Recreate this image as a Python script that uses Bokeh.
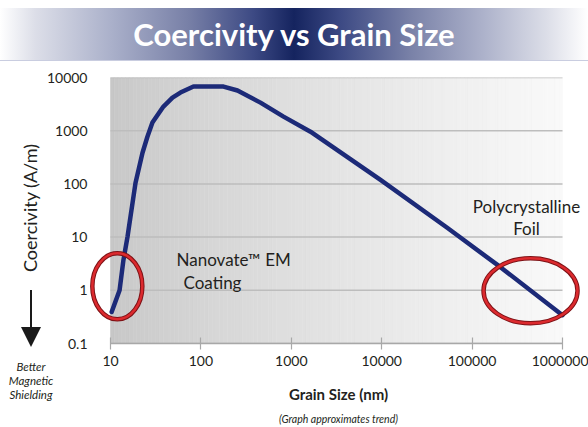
import numpy as np
from bokeh.plotting import figure
from bokeh.layouts import column, row
from bokeh.models import Label, FixedTicker, LogAxis, Div
from bokeh.embed import file_html
from bokeh.resources import INLINE

# ---------------- data ----------------
grain_size_nm = [10.3, 12.6, 13.9, 15.4, 18.9, 22.6, 25.6, 29.1, 38.5, 48.5,
                 59.4, 82.8, 128, 178, 254, 456, 820, 1630, 9700, 53500,
                 206000, 1000000]
coercivity_am = [0.39, 1.0, 3.7, 10, 104, 385, 770, 1420, 2840, 4200,
                 5210, 6760, 6800, 6760, 5690, 3370, 1840, 957, 119, 14.8,
                 2.72, 0.34]

x_ticks = [10, 100, 1000, 10000, 100000, 1000000]
x_tick_labels = ["10", "100", "1000", "10000", "100000", "1000000"]
y_ticks = [0.1, 1, 10, 100, 1000, 10000]
y_tick_labels = ["0.1", "1", "10", "100", "1000", "10000"]

highlight_names = ["Nanovate\u2122 EM Coating", "Polycrystalline Foil"]
highlight_grain = [11.9, 443000]
highlight_coerc = [1.19, 0.98]

TITLE = "Coercivity vs Grain Size"
Y_LABEL = "Coercivity (A/m)"
X_LABEL = "Grain Size (nm)"
NOTE = "(Graph approximates trend)"
ARROW_NOTE = ["Better", "Magnetic", "Shielding"]

FONT = "Lato"
TXT = "#231f20"

# ---------------- layout constants (page pixels) ----------------
PAGE_W, PAGE_H = 588, 427
BANNER_H = 62
LEFT_W = 56          # html column with the y label / arrow note
OVERLAP = 16         # main chart's (transparent) border slides under it
DATA_L, DATA_R = 110, 562            # page x of 10 and of 1e6
FR_L, FR_T, FR_B = 88, 77, 343       # drawing frame (page coords)
W, H = PAGE_W - LEFT_W + OVERLAP, PAGE_H - BANNER_H
P_LEFT = LEFT_W - OVERLAP            # page x of main canvas
PX_PER_DEC = (DATA_R - DATA_L) / 5.0
X_START = 10 ** (1 - (DATA_L - FR_L) / PX_PER_DEC)
X_END = 10 ** (1 + (PAGE_W - DATA_L) / PX_PER_DEC)

# ---------------- banner (HTML gradient) ----------------
grad = ("linear-gradient(to right, #ffffff 0%, #dcdee8 6%, #aab0ca 19%, "
        "#7880a7 32%, #3d4a84 43%, #15245f 50%, #3d4a84 58%, #7a82a8 70%, "
        "#acb1ca 82%, #dcdee8 93%, #ffffff 100%)")
banner = Div(
    text=(f'<div style="margin-top:8px;height:53px;width:{PAGE_W}px;'
          f'background:{grad};border-bottom:1px solid #c9cde0;'
          f'color:#ffffff;font-family:{FONT};font-weight:bold;font-size:31px;'
          f'line-height:53px;text-align:center;">{TITLE}</div>'),
    width=PAGE_W, height=BANNER_H, margin=0)

# ---------------- left annotation column (HTML) ----------------
left_html = (
    f'<div style="position:relative;width:{LEFT_W}px;height:{H}px;overflow:hidden;'
    f'font-family:{FONT};color:{TXT};">'
    f'<div style="position:absolute;left:20px;top:{208 - BANNER_H - 75}px;'
    f'width:20px;height:150px;display:flex;align-items:center;justify-content:center;">'
    f'<div style="transform:rotate(-90deg);white-space:nowrap;'
    f'font-size:18px;line-height:18px;">{Y_LABEL}</div></div>'
    f'<div style="position:absolute;left:30.2px;top:{290 - BANNER_H}px;'
    f'width:1.6px;height:{327 - 290}px;background:#1a1a1a;"></div>'
    f'<div style="position:absolute;left:20.5px;top:{327 - BANNER_H}px;width:0;height:0;'
    f'border-left:10.5px solid transparent;border-right:10.5px solid transparent;'
    f'border-top:20px solid #1a1a1a;"></div>'
    f'<div style="position:absolute;left:7px;width:48px;top:{367 - 7 - BANNER_H}px;'
    f'text-align:center;font-style:italic;font-size:11.5px;line-height:14px;">'
    + "<br>".join(ARROW_NOTE) +
    '</div></div>')
left = Div(text=left_html, width=LEFT_W, height=H, margin=0)

# ---------------- main chart ----------------
p = figure(width=W, height=H, x_axis_type="log", y_axis_type="log",
           x_range=(X_START, X_END), y_range=(0.1, 1e4),
           output_backend="svg", toolbar_location=None,
           min_border_left=FR_L - P_LEFT, min_border_right=0,
           min_border_top=FR_T - BANNER_H,
           min_border_bottom=H - (FR_B - BANNER_H))
p.margin = (0, 0, 0, -OVERLAP)
p.outline_line_color = None
p.background_fill_color = "white"
p.border_fill_alpha = 0.0

# background gradient of the plotting area (10 .. 1e6)
edges = np.logspace(1, 6, 121)
tt = np.linspace(0, 1, 120)
gcols = ["#%02x%02x%02x" % ((int(round(199 + 50 * t ** 0.8)),) * 3) for t in tt]
bg = p.quad(left=edges[:-1], right=edges[1:], bottom=0.1, top=1e4,
            fill_color=gcols, line_color=gcols, line_width=0.6)
bg.level = "image"

# horizontal grid lines limited to the data extent
gl = p.segment(x0=x_ticks[0], x1=x_ticks[-1], y0=y_ticks, y1=y_ticks,
               line_color="#bdbdbd", line_width=1.5)
gl.level = "underlay"
p.xgrid.grid_line_color = None
p.ygrid.grid_line_color = None

# axes
p.xaxis.ticker = FixedTicker(ticks=x_ticks)
p.yaxis.ticker = FixedTicker(ticks=y_ticks)
p.xaxis.bounds = (x_ticks[0], x_ticks[-1])
p.xaxis.major_label_overrides = {float(k): v for k, v in zip(x_ticks, x_tick_labels)}
p.yaxis.major_label_overrides = {float(k): v for k, v in zip(y_ticks, y_tick_labels)}
for ax in (p.xaxis, p.yaxis):
    ax.major_label_text_font = FONT
    ax.major_label_text_font_size = "14px"
    ax.major_label_text_color = TXT
    ax.minor_tick_line_color = None
    ax.axis_label_text_font = FONT
    ax.axis_label_text_color = TXT
p.xaxis.axis_line_color = "#a8a8a8"
p.xaxis.axis_line_width = 1.5
p.xaxis.major_tick_line_color = "#a8a8a8"
p.xaxis.major_tick_line_width = 1.2
p.xaxis.major_tick_in = 6
p.xaxis.major_tick_out = 6
p.xaxis.major_label_standoff = 6
p.xaxis.axis_label = X_LABEL
p.xaxis.axis_label_text_font_style = "bold"
p.xaxis.axis_label_text_font_size = "15px"
p.xaxis.axis_label_standoff = 16

p.yaxis.axis_line_color = None
p.yaxis.major_tick_line_color = None
p.yaxis.major_tick_in = 0
p.yaxis.major_tick_out = 0
p.yaxis.major_label_standoff = 1

note_axis = LogAxis(ticker=FixedTicker(ticks=[]), axis_label=NOTE,
                    axis_line_color=None, major_tick_line_color=None,
                    minor_tick_line_color=None, major_tick_in=0, major_tick_out=0,
                    major_label_text_font_size="1px", major_label_standoff=0,
                    axis_label_standoff=7, axis_label_text_font=FONT,
                    axis_label_text_font_size="10.5px",
                    axis_label_text_font_style="italic", axis_label_text_color=TXT,
                    bounds=(x_ticks[0], x_ticks[-1]))
p.add_layout(note_axis, "below")

# curve
p.line(grain_size_nm, coercivity_am, line_color="#1c2a78", line_width=4.5,
       line_cap="round", line_join="round")

# highlight ellipses
ell_w = [50, 94]
ell_h = [66, 65]
p.ellipse(x=highlight_grain, y=highlight_coerc, width=ell_w, height=ell_h,
          width_units="screen", height_units="screen", fill_color=None,
          line_color="#7e1216", line_width=4.5)
p.ellipse(x=highlight_grain, y=highlight_coerc, width=ell_w, height=ell_h,
          width_units="screen", height_units="screen", fill_color=None,
          line_color="#dc2a2e", line_width=2.5)


def lab(px, py, text, size="17px", align="center"):
    p.add_layout(Label(x=px - FR_L, y=FR_B - py, x_units="screen", y_units="screen",
                       text=text, text_font=FONT, text_font_size=size,
                       text_color=TXT, text_align=align,
                       text_baseline="alphabetic"))


lab(176, 259, "Nanovate\u2122 EM", align="left")
lab(183, 282, "Coating", align="left")
lab(526, 206, "Polycrystalline")
lab(526, 228, "Foil")

layout = column(banner, row(left, p, spacing=0), spacing=0)
open("out.html", "w").write(file_html(layout, INLINE))
